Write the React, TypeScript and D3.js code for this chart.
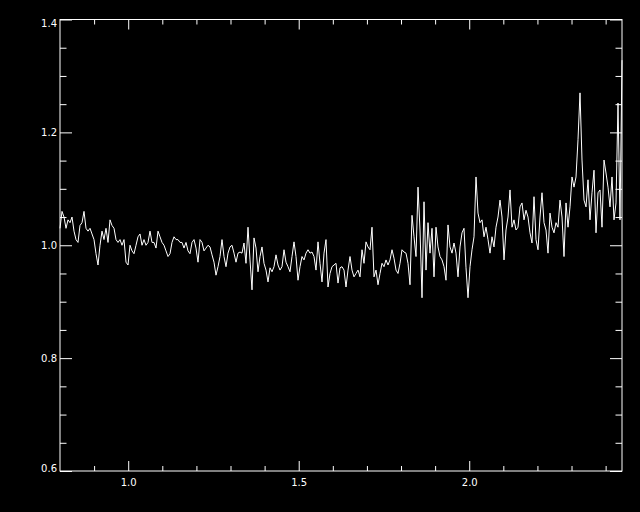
import React, { useEffect, useRef } from "react";
import * as d3 from "d3";

// wavelength grid (evenly spaced samples)
const WAVE_START = 0.8;
const WAVE_END = 2.448;

// flux ratio, one sample per grid step
const flux: number[] = [
  1.03, 1.06, 1.05, 1.03, 1.045, 1.04, 1.05, 1.025, 1.01, 1.005,
  1.035, 1.04, 1.06, 1.03, 1.025, 1.03, 1.02, 1.01, 0.985, 0.965,
  1.0, 1.025, 1.01, 1.03, 1.005, 1.045, 1.035, 1.03, 1.01, 1.005,
  1.01, 1.0, 1.01, 0.97, 0.965, 1.0, 0.99, 0.985, 1.0, 1.015,
  1.02, 1.0, 1.01, 1.0, 1.005, 1.025, 1.005, 1.005, 0.995, 1.025,
  1.015, 1.005, 1.0, 0.99, 0.98, 0.985, 1.005, 1.015, 1.01, 1.01,
  1.005, 1.005, 0.995, 1.005, 0.99, 0.985, 1.005, 1.01, 0.995, 0.97,
  1.01, 1.005, 0.99,
  0.995, 1.0, 0.997, 0.983, 0.97, 0.947, 0.962, 0.98, 1.01, 0.98,
  0.962, 0.986, 0.997, 1.0, 0.986, 0.97, 0.986, 0.988, 0.986, 1.004,
  0.968, 1.032, 0.974, 0.921, 1.013, 0.995, 0.953, 0.98, 0.997, 0.968,
  0.956, 0.935, 0.96, 0.953, 0.962, 0.983, 0.965, 0.956, 0.962, 0.992,
  0.97, 0.962, 0.953, 0.98, 1.006, 0.98, 0.938, 0.962, 0.98, 0.974,
  0.986, 0.992, 0.986, 0.988, 0.98, 0.956, 1.006, 0.968, 0.935, 0.986,
  1.01, 0.926, 0.95, 0.962, 0.965, 0.968, 0.933, 0.96, 0.962, 0.956,
  0.926, 0.956, 0.98, 0.956, 0.944, 0.95, 0.956, 0.944, 0.992, 0.968,
  1.006, 0.997, 0.992, 1.032, 0.944, 0.956, 0.93, 0.95, 0.968, 0.962,
  0.974, 0.965, 0.974, 0.992, 0.977, 0.956, 0.95, 0.968, 0.992, 0.988,
  0.986, 0.968, 0.93, 1.053, 1.015, 0.98, 1.103, 1.027, 0.907, 1.077,
  0.956, 1.04, 0.986, 1.03, 0.944, 1.032, 0.997, 0.98, 0.974, 0.962,
  0.938, 1.036, 0.997, 0.986, 1.004, 0.986, 0.944, 0.997, 1.022, 1.03,
  0.96, 0.907, 0.962, 0.992, 1.015, 1.121, 1.057, 1.04, 1.045, 1.015,
  1.032, 1.01, 0.986, 1.015, 0.997, 1.032, 1.05, 1.08, 1.05, 0.974,
  1.027, 1.05, 1.098, 1.032, 1.045, 1.027, 1.032, 1.068, 1.075, 1.045,
  1.062, 1.05, 1.022, 1.004, 1.086, 1.01, 0.992, 1.05, 1.093, 1.04,
  1.027, 0.986, 1.057, 1.032, 1.022, 1.04, 1.032, 1.08, 1.05, 0.98,
  1.075, 1.032, 1.068, 1.121, 1.103, 1.121, 1.187, 1.27, 1.151, 1.08,
  1.068, 1.116, 1.045, 1.093, 1.133, 1.022, 1.093, 1.098, 1.032, 1.151,
  1.128, 1.103, 1.068, 1.121, 1.045, 1.075, 1.252, 1.045, 1.328,
];

const xMajorTicks = [1.0, 1.5, 2.0];
const xMinorTicks = [0.9, 1.1, 1.2, 1.3, 1.4, 1.6, 1.7, 1.8, 1.9, 2.1, 2.2, 2.3, 2.4];
const yMajorTicks = [0.6, 0.8, 1.0, 1.2, 1.4];
const yMinorTicks = [0.65, 0.7, 0.75, 0.85, 0.9, 0.95, 1.05, 1.1, 1.15, 1.25, 1.3, 1.35];

export default function App() {
  const ref = useRef<SVGSVGElement>(null);

  useEffect(() => {
    const width = 640;
    const height = 512;
    const margin = { top: 19.5, right: 18, bottom: 41, left: 60 };
    const innerWidth = width - margin.left - margin.right;
    const innerHeight = height - margin.top - margin.bottom;

    const svg = d3.select(ref.current);
    svg.selectAll("*").remove();
    svg.append("rect").attr("width", width).attr("height", height).attr("fill", "#000");

    const g = svg.append("g").attr("transform", `translate(${margin.left},${margin.top})`);

    // scales
    const xScale = d3.scaleLinear().domain([WAVE_START, WAVE_END]).range([0, innerWidth]);
    const yScale = d3.scaleLinear().domain([0.6, 1.4]).range([innerHeight, 0]);

    const step = (WAVE_END - WAVE_START) / (flux.length - 1);
    const points = flux.map((v, i) => ({ w: WAVE_START + i * step, v }));

    // spectrum line
    const line = d3.line<{ w: number; v: number }>().x(d => xScale(d.w)).y(d => yScale(d.v));
    g.append("path")
      .datum(points)
      .attr("d", line)
      .attr("fill", "none")
      .attr("stroke", "#fff")
      .attr("stroke-width", 1);

    // axes: ticks on all four sides, pointing inward
    const fmt = d3.format(".1f");
    const axes = [
      { gen: d3.axisBottom(xScale).tickValues(xMajorTicks).tickSize(-10).tickFormat(fmt as any), t: `translate(0,${innerHeight})` },
      { gen: d3.axisBottom(xScale).tickValues(xMinorTicks).tickSize(-5).tickFormat(() => ""), t: `translate(0,${innerHeight})` },
      { gen: d3.axisTop(xScale).tickValues(xMajorTicks).tickSize(-10).tickFormat(() => ""), t: "translate(0,0)" },
      { gen: d3.axisTop(xScale).tickValues(xMinorTicks).tickSize(-5).tickFormat(() => ""), t: "translate(0,0)" },
      { gen: d3.axisLeft(yScale).tickValues(yMajorTicks).tickSize(-12).tickFormat(fmt as any), t: "translate(0,0)" },
      { gen: d3.axisLeft(yScale).tickValues(yMinorTicks).tickSize(-6.5).tickFormat(() => ""), t: "translate(0,0)" },
      { gen: d3.axisRight(yScale).tickValues(yMajorTicks).tickSize(-12).tickFormat(() => ""), t: `translate(${innerWidth},0)` },
      { gen: d3.axisRight(yScale).tickValues(yMinorTicks).tickSize(-6.5).tickFormat(() => ""), t: `translate(${innerWidth},0)` },
    ];
    axes.forEach((a, i) => {
      const ax = g.append("g").attr("transform", a.t)
        .call(a.gen.tickSizeOuter(0).tickPadding(i === 0 ? 8 : 3));
      ax.select(".domain").remove();
      ax.selectAll("line").attr("stroke", "#fff");
      ax.selectAll("text")
        .attr("fill", "#fff")
        .style("font-family", "'DejaVu Sans', sans-serif")
        .style("font-size", "10px");
      // edge labels on the y axis sit just inside the frame
      if (i === 4) {
        ax.selectAll<SVGTextElement, number>("text")
          .attr("dy", d => (d === 1.4 ? "0.67em" : d === 0.6 ? "0.07em" : "0.32em"));
      }
    });

    // plot frame
    g.append("rect")
      .attr("width", innerWidth)
      .attr("height", innerHeight)
      .attr("fill", "none")
      .attr("stroke", "#fff")
      .attr("stroke-width", 1);
  }, []);

  return (
    <svg ref={ref} width={640} height={512} style={{ position: "absolute", left: 0, top: 0, display: "block" }} />
  );
}
